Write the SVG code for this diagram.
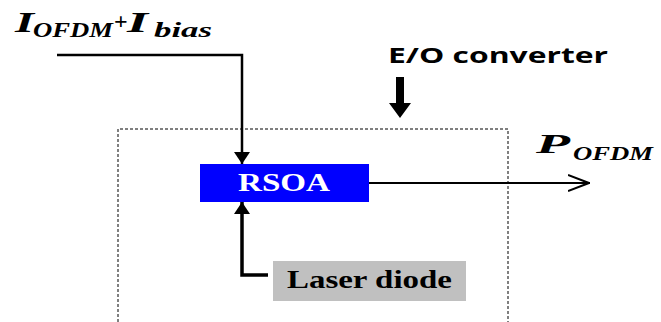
<svg xmlns="http://www.w3.org/2000/svg" width="661" height="322" viewBox="0 0 661 322">
<style>
.serif{font-family:"Liberation Serif","DejaVu Serif",serif;font-weight:bold}
.ital{font-style:italic}
.ln{stroke:#000;fill:none}
</style>
<defs>
<marker id="tri" viewBox="0 0 12 16" refX="12" refY="8" markerWidth="12" markerHeight="16" markerUnits="userSpaceOnUse" orient="auto">
<path d="M0,0 L12,8 L0,16 Z" fill="#000"/>
</marker>
<marker id="open" viewBox="0 0 22 18" refX="22" refY="9" markerWidth="22" markerHeight="18" markerUnits="userSpaceOnUse" orient="auto">
<path d="M0,1 L21,9 L0,17" fill="none" stroke="#000" stroke-width="2"/>
</marker>
</defs>
<g id="converter-box">
<path d="M118,322 V129 H508 V322" fill="none" stroke="#000" stroke-width="1" stroke-dasharray="3,2"/>
</g>
<g id="label-input">
<text class="serif ital" font-size="30"><tspan x="15" y="32" textLength="19" lengthAdjust="spacingAndGlyphs">I</tspan><tspan x="33" y="37" font-size="20" textLength="80" lengthAdjust="spacingAndGlyphs">OFDM</tspan><tspan x="114" y="29" font-size="24" font-style="normal">+</tspan><tspan x="127" y="32" textLength="21" lengthAdjust="spacingAndGlyphs">I</tspan><tspan x="154" y="37" font-size="21" textLength="58" lengthAdjust="spacingAndGlyphs">bias</tspan></text>
</g>
<g id="label-eo">
<text x="388" y="63" font-family="Open Sans, DejaVu Sans, sans-serif" font-weight="bold" font-size="22" textLength="220" lengthAdjust="spacingAndGlyphs">E/O converter</text>
<path d="M396,77 H404 V103 H411 L400,118 L389,103 H396 Z" fill="#000"/>
</g>
<g id="rsoa">
<rect x="200" y="164" width="169" height="38" fill="#0000FF"/>
<text x="238" y="191" class="serif" font-size="25" fill="#fff" textLength="92" lengthAdjust="spacingAndGlyphs">RSOA</text>
</g>
<g id="laser-diode">
<rect x="273" y="261" width="193" height="40" fill="#C0C0C0"/>
<text x="287" y="288" class="serif" font-size="25" fill="#000" textLength="165" lengthAdjust="spacingAndGlyphs">Laser diode</text>
</g>
<g id="label-output">
<text class="serif ital" font-size="28"><tspan x="536" y="153" textLength="34" lengthAdjust="spacingAndGlyphs">P</tspan><tspan x="573" y="160" font-size="18" textLength="80" lengthAdjust="spacingAndGlyphs">OFDM</tspan></text>
</g>
<g id="connectors">
<path class="ln" d="M57,55 H242 V164" stroke-width="2.5" marker-end="url(#tri)"/>
<path class="ln" d="M268,275 H242 V202" stroke-width="3.5" marker-end="url(#tri)"/>
<path class="ln" d="M369,183 H590" stroke-width="2" marker-end="url(#open)"/>
</g>
</svg>
